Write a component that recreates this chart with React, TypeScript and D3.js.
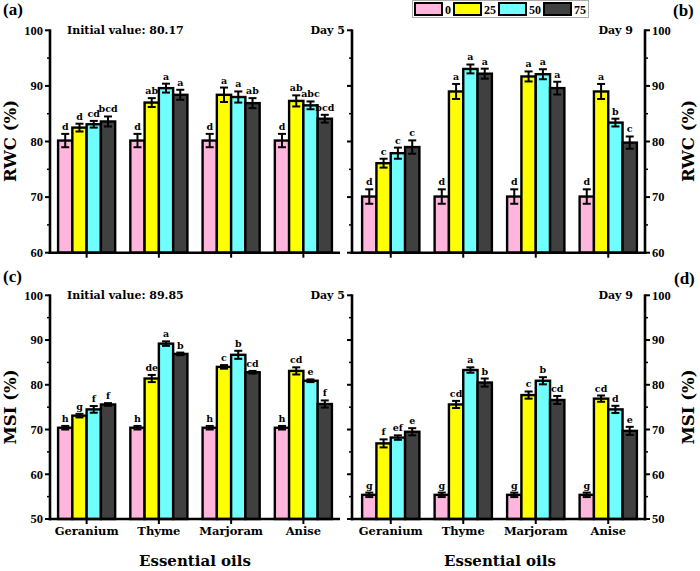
import React from "react";
import * as d3 from "d3";

const categories = ["Geranium", "Thyme", "Marjoram", "Anise"];
const concentrations = ["0", "25", "50", "75"];
const barColors = ["#FFB5DC", "#FFFF00", "#70FFFF", "#404040"];

const rwcTicks = [60, 70, 80, 90, 100];
const msiTicks = [50, 60, 70, 80, 90, 100];

// rows = concentration (0, 25, 50, 75); columns = categories
const rwcDay5Mean = [
  [80.17, 80.17, 80.17, 80.17],
  [82.5, 87.0, 88.4, 87.3],
  [83.1, 89.6, 88.0, 86.5],
  [83.6, 88.4, 86.9, 84.1],
];
const rwcDay5Err = [
  [1.2, 1.2, 1.2, 1.2],
  [0.7, 0.8, 1.3, 1.0],
  [0.6, 0.8, 1.0, 0.7],
  [0.9, 0.9, 0.9, 0.7],
];
const rwcDay5Letters = [
  ["d", "d", "d", "d"],
  ["d", "ab", "a", "ab"],
  ["cd", "a", "a", "abc"],
  ["bcd", "a", "ab", "bcd"],
];

const rwcDay9Mean = [
  [70.1, 70.1, 70.1, 70.1],
  [76.1, 89.0, 91.7, 89.0],
  [77.9, 93.05, 92.1, 83.4],
  [79.0, 92.2, 89.6, 79.8],
];
const rwcDay9Err = [
  [1.3, 1.3, 1.3, 1.3],
  [0.8, 1.35, 0.9, 1.35],
  [1.0, 0.8, 0.9, 0.7],
  [1.2, 0.9, 1.15, 1.1],
];
const rwcDay9Letters = [
  ["d", "d", "d", "d"],
  ["c", "a", "a", "a"],
  ["c", "a", "a", "b"],
  ["c", "a", "a", "c"],
];

const msiDay5Mean = [
  [70.4, 70.4, 70.4, 70.4],
  [73.1, 81.4, 84.0, 83.1],
  [74.5, 89.2, 86.7, 80.9],
  [75.6, 86.9, 82.8, 75.7],
];
const msiDay5Err = [
  [0.4, 0.4, 0.4, 0.4],
  [0.4, 0.8, 0.4, 0.8],
  [0.75, 0.5, 0.9, 0.3],
  [0.3, 0.3, 0.3, 0.8],
];
const msiDay5Letters = [
  ["h", "h", "h", "h"],
  ["g", "de", "c", "cd"],
  ["f", "a", "b", "e"],
  ["f", "b", "cd", "f"],
];

const msiDay9Mean = [
  [55.4, 55.4, 55.4, 55.4],
  [66.9, 75.6, 77.7, 76.9],
  [68.2, 83.3, 80.9, 74.5],
  [69.5, 80.5, 76.6, 69.7],
];
const msiDay9Err = [
  [0.5, 0.5, 0.5, 0.5],
  [0.9, 0.8, 0.8, 0.7],
  [0.5, 0.6, 0.8, 0.8],
  [0.8, 0.9, 0.9, 0.9],
];
const msiDay9Letters = [
  ["g", "g", "g", "g"],
  ["f", "cd", "c", "cd"],
  ["ef", "a", "b", "d"],
  ["e", "b", "cd", "e"],
];

const WORD = "'DejaVu Serif', serif";
const NUM = "'Liberation Serif', 'Times New Roman', serif";

type PanelProps = {
  means: number[][];
  errs: number[][];
  letters: string[][];
  ticks: number[];
  yRange: [number, number];
  bandRange: [number, number];
  leftX: number;
  rightX: number;
  leftLabels: boolean;
  rightAxis: boolean;
  catLabels: boolean;
};

function Panel(p: PanelProps) {
  const yMin = p.ticks[0];
  const yMax = p.ticks[p.ticks.length - 1];
  const y = d3.scaleLinear().domain([yMin, yMax]).range(p.yRange);
  const x = d3.scaleBand().domain(categories).range(p.bandRange).padding(0);
  const bw = x.bandwidth();
  const groupW = bw * 0.79;
  const sub = d3.scaleBand().domain(concentrations).range([-groupW / 2, groupW / 2]).padding(0);
  const minor = d3.range(yMin + 5, yMax, 10);
  const base = y(yMin);
  const axisW = 2.6;

  const yAxis = (ax: number, dir: number, labels: boolean) => (
    <g>
      <line x1={ax} x2={ax} y1={y(yMax) - 1} y2={base + 1.3} stroke="#000" strokeWidth={axisW} />
      {p.ticks.map((t) => (
        <g key={"t" + t}>
          <line x1={ax} x2={ax + dir * 5} y1={y(t)} y2={y(t)} stroke="#000" strokeWidth={2} />
          {labels && (
            <text
              x={ax + dir * 7}
              y={y(t)}
              dy="0.35em"
              textAnchor={dir < 0 ? "end" : "start"}
              fontFamily={NUM}
              fontWeight="bold"
              fontSize={12.5}
            >
              {t}
            </text>
          )}
        </g>
      ))}
      {minor.map((t) => (
        <line key={"m" + t} x1={ax} x2={ax + dir * 3} y1={y(t)} y2={y(t)} stroke="#000" strokeWidth={1.5} />
      ))}
    </g>
  );

  return (
    <g>
      {concentrations.map((c, i) =>
        categories.map((cat, j) => {
          const v = p.means[i][j];
          const e = p.errs[i][j];
          const cx = (x(cat) as number) + bw / 2 + (sub(c) as number);
          const w = sub.bandwidth();
          const mid = cx + w / 2;
          return (
            <g key={c + cat}>
              <rect x={cx} y={y(v)} width={w} height={base - y(v)} fill={barColors[i]} stroke="#000" strokeWidth={2.4} />
              <line x1={mid} x2={mid} y1={y(v - e)} y2={y(v + e)} stroke="#000" strokeWidth={2} />
              <line x1={mid - 4} x2={mid + 4} y1={y(v - e)} y2={y(v - e)} stroke="#000" strokeWidth={2} />
              <line x1={mid - 4} x2={mid + 4} y1={y(v + e)} y2={y(v + e)} stroke="#000" strokeWidth={2} />
              <text x={mid} y={y(v + e) - 4} textAnchor="middle" fontFamily={WORD} fontWeight="bold" fontSize={9.5}>
                {p.letters[i][j]}
              </text>
            </g>
          );
        })
      )}
      {yAxis(p.leftX, -1, p.leftLabels)}
      {p.rightAxis && yAxis(p.rightX, 1, true)}
      <line x1={p.leftX - axisW / 2} x2={p.rightX + (p.rightAxis ? axisW / 2 : 0)} y1={base} y2={base} stroke="#000" strokeWidth={axisW} />
      {categories.map((cat) => {
        const cx = (x(cat) as number) + bw / 2;
        return (
          <g key={"x" + cat}>
            <line x1={cx} x2={cx} y1={base} y2={base + 5} stroke="#000" strokeWidth={2} />
            {p.catLabels && (
              <text x={cx} y={535} textAnchor="middle" fontFamily={WORD} fontWeight="bold" fontSize={11.5}>
                {cat}
              </text>
            )}
          </g>
        );
      })}
    </g>
  );
}

function Legend() {
  let cx = 415;
  const items = concentrations.map((c, i) => {
    const sx = cx;
    const tx = sx + 30;
    cx = tx + c.length * 6 + 3;
    return (
      <g key={c}>
        <rect x={sx} y={3} width={27} height={12} fill={barColors[i]} stroke="#000" strokeWidth={2} />
        <text x={tx} y={14} fontFamily={NUM} fontWeight="bold" fontSize={12}>
          {c}
        </text>
      </g>
    );
  });
  return (
    <g>
      <rect x={412.5} y={0.5} width={176} height={17} fill="#fff" stroke="#aaa" strokeWidth={1} />
      {items}
    </g>
  );
}

export default function App() {
  const topY: [number, number] = [252.7, 30.3];
  const botY: [number, number] = [519, 295.3];
  const leftBand: [number, number] = [50.5, 339.5];
  const rightBand: [number, number] = [354.5, 644.5];
  return (
    <svg width={700} height={571} style={{ position: "absolute", left: 0, top: 0, background: "#fff" }}>
      <rect width={700} height={571} fill="#fff" />
      <Panel means={rwcDay5Mean} errs={rwcDay5Err} letters={rwcDay5Letters} ticks={rwcTicks} yRange={topY}
        bandRange={leftBand} leftX={50} rightX={340} leftLabels={true} rightAxis={false} catLabels={false} />
      <Panel means={rwcDay9Mean} errs={rwcDay9Err} letters={rwcDay9Letters} ticks={rwcTicks} yRange={topY}
        bandRange={rightBand} leftX={352} rightX={645} leftLabels={false} rightAxis={true} catLabels={false} />
      <Panel means={msiDay5Mean} errs={msiDay5Err} letters={msiDay5Letters} ticks={msiTicks} yRange={botY}
        bandRange={leftBand} leftX={50} rightX={340} leftLabels={true} rightAxis={false} catLabels={true} />
      <Panel means={msiDay9Mean} errs={msiDay9Err} letters={msiDay9Letters} ticks={msiTicks} yRange={botY}
        bandRange={rightBand} leftX={352} rightX={645} leftLabels={false} rightAxis={true} catLabels={true} />

      <g fontFamily={WORD} fontWeight="bold" fontSize={11}>
        <text x={67} y={34}>Initial value: 80.17</text>
        <text x={345} y={34} textAnchor="end">Day 5</text>
        <text x={633} y={34} textAnchor="end">Day 9</text>
        <text x={67} y={298.5}>Initial value: 89.85</text>
        <text x={345} y={298.5} textAnchor="end">Day 5</text>
        <text x={633} y={298.5} textAnchor="end">Day 9</text>
      </g>

      <g fontFamily={NUM} fontWeight="bold" fontSize={17}>
        <text x={3} y={15}>(a)</text>
        <text x={673} y={16}>(b)</text>
        <text x={3} y={282}>(c)</text>
        <text x={674} y={284}>(d)</text>
      </g>

      <g fontFamily={WORD} fontWeight="bold" fontSize={16.5} textAnchor="middle">
        <text transform="translate(16,141) rotate(-90)">RWC (%)</text>
        <text transform="translate(694,141) rotate(-90)">RWC (%)</text>
        <text transform="translate(16,407) rotate(-90)">MSI (%)</text>
        <text transform="translate(694,407) rotate(-90)">MSI (%)</text>
      </g>

      <g fontFamily={WORD} fontWeight="bold" fontSize={15} textAnchor="middle">
        <text x={195} y={566}>Essential oils</text>
        <text x={500} y={566}>Essential oils</text>
      </g>

      <Legend />
    </svg>
  );
}
